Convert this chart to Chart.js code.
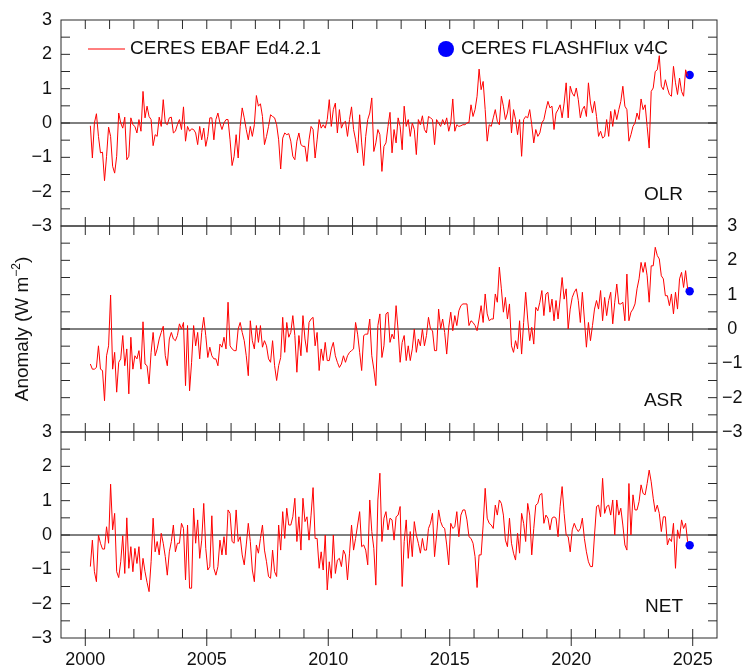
<!DOCTYPE html>
<html>
<head>
<meta charset="utf-8">
<title>CERES TOA flux anomalies</title>
<script src="https://cdn.jsdelivr.net/npm/chart.js@4.4.1/dist/chart.umd.min.js"></script>
<style>
  html, body { margin: 0; padding: 0; background: #ffffff; overflow: hidden; }
  canvas { display: block; }
</style>
</head>
<body>
<canvas id="chart" width="742" height="669"></canvas>
<script>
// Monthly global-mean TOA flux anomalies (W m-2), CERES EBAF Ed4.2.1, starting March 2000
const firstYear = 2000;
const firstMonth = 3;

const olrAnomaly = [
  -0.08,-1.02,0.0,0.27,-0.39,-0.87,-0.85,-1.68,-0.97,-0.12,
  -0.39,-1.26,-1.46,-0.97,0.29,0.0,-0.15,0.17,-1.07,-0.97,
  0.15,-0.05,-0.10,-0.29,0.10,-0.24,0.92,0.15,0.49,0.19,
  0.10,-0.66,-0.34,-0.39,0.17,-0.10,0.68,0.0,-0.05,0.15,
  0.17,-0.29,-0.24,-0.05,0.10,-0.19,0.47,-0.53,-0.10,-0.24,
  -0.17,-0.19,-0.29,-0.63,-0.10,-0.49,-0.15,-0.68,-0.39,0.15,
  0.15,-0.49,0.10,0.29,0.0,-0.19,0.0,0.10,0.10,
  -0.49,-1.24,-0.97,-0.34,-1.02,-0.10,0.44,0.15,-0.19,-0.49,
  -0.10,-0.39,-0.05,0.80,0.49,0.56,0.19,-0.63,-0.39,
  -0.10,0.24,0.19,0.15,-0.05,-0.49,-1.34,-0.44,-0.29,-0.34,-0.31,
  -0.53,-0.97,-1.07,-0.53,-0.29,-0.63,-0.68,-0.68,-1.12,-0.49,
  -0.10,-0.19,-1.02,-0.49,0.10,-0.15,-0.05,-0.15,0.10,0.68,
  -0.10,0.39,0.58,-0.29,0.39,-0.15,0.0,0.05,-0.39,0.10,
  0.47,-0.19,-0.49,-0.87,0.24,-0.58,-1.24,-0.39,0.10,0.29,
  0.73,-0.83,-0.58,-0.19,-0.34,-1.41,-0.68,-0.58,-0.10,0.31,
  -0.87,-0.19,-0.58,0.15,-0.10,-0.78,0.49,-0.10,0.10,-0.39,
  0.0,-0.19,-0.92,0.10,-0.05,0.21,-0.19,-0.29,0.19,0.15,
  0.10,-0.63,0.10,0.0,-0.10,0.10,-0.05,0.15,-0.24,0.0,
  0.70,-0.24,-0.05,-0.10,-0.08,-0.05,-0.05,0.0,0.02,0.53,
  0.19,0.39,0.78,1.57,0.97,1.21,0.39,-0.53,-0.05,-0.10,
  0.15,0.39,0.05,-0.05,0.78,0.49,0.10,0.29,0.68,
  -0.29,0.39,0.10,-0.34,0.10,-0.97,0.10,0.19,0.15,
  0.39,-0.05,-0.58,-0.19,-0.39,-0.29,0.0,0.10,0.39,0.63,
  0.44,0.49,-0.19,0.29,0.39,0.53,0.15,0.58,1.17,0.15,
  1.07,0.87,0.78,1.02,0.68,0.15,0.39,0.49,0.19,1.17,
  0.58,0.29,0.63,0.19,-0.39,-0.24,-0.44,-0.39,0.10,-0.39,
  0.34,-0.10,0.39,0.10,0.39,0.63,1.07,0.49,0.39,-0.53,
  -0.34,-0.10,0.0,0.29,0.10,0.70,0.39,0.53,-0.10,-0.73,
  0.92,1.02,1.50,1.55,1.96,1.07,0.97,1.26,1.02,0.83,
  0.78,1.65,1.17,0.83,1.31,0.92,0.78,1.55,1.36
];

const asrAnomaly = [
  -1.02,-1.17,-1.17,-1.12,-0.49,-1.17,-1.21,-2.09,-0.78,-0.49,
  0.99,-1.17,-0.68,-1.84,-0.97,-0.87,-0.19,-1.07,-0.58,-1.89,
  -0.24,-1.17,-0.78,-0.87,-0.63,-1.17,0.21,-1.02,-1.07,-1.60,
  -0.68,-0.10,-0.78,-0.58,-0.29,-0.10,0.08,-0.78,-1.07,-0.29,
  -0.10,-0.29,-0.34,-0.19,0.15,0.0,0.19,-1.65,0.10,
  -1.80,-0.97,0.10,-0.49,-0.10,-0.87,-0.10,0.34,-0.19,-0.83,
  -0.53,-0.78,-0.87,-0.87,-1.07,-0.44,-0.53,-0.24,-0.58,
  0.78,-0.49,-0.58,-0.63,-0.63,0.0,0.19,-0.10,-0.34,-0.78,
  -1.36,0.24,-0.34,-0.58,0.10,-0.39,0.10,-0.53,-0.34,-0.49,
  -0.87,-0.97,-0.34,-1.07,-1.50,-1.07,-0.83,0.34,-0.68,0.19,-0.24,
  -0.10,0.39,-0.19,-1.26,-0.19,-0.78,0.39,-0.29,-0.68,
  0.19,0.29,0.34,-0.49,-0.10,-1.21,-0.58,-0.92,-0.39,-0.92,
  -0.92,-0.58,-0.39,-0.78,-0.97,-1.12,-1.02,-0.78,-0.97,-0.78,
  -0.68,-0.63,-0.58,0.19,-0.15,-0.68,-1.21,-0.19,-0.15,-0.15,
  0.29,-0.78,-1.17,-1.65,0.10,0.44,-0.83,-0.49,0.44,0.49,
  -0.39,-0.15,-0.29,0.68,-0.05,-0.97,-0.39,-0.19,-0.92,
  -0.49,-0.92,-0.58,0.0,-0.68,-0.29,-0.49,0.0,-0.49,-0.19,
  0.34,0.0,-0.05,-0.63,-0.63,0.58,0.0,0.29,-0.10,-0.73,
  0.05,0.49,-0.05,0.39,0.10,0.53,0.68,0.73,0.73,0.73,
  0.10,0.24,0.19,0.10,-0.05,0.29,0.68,0.19,1.02,0.44,
  0.24,0.29,0.29,1.02,0.78,1.80,1.17,0.49,0.92,0.29,0.73,
  -0.49,-0.68,-0.34,-0.58,0.24,-0.73,0.19,1.07,0.29,
  -0.34,0.05,-0.44,0.63,0.53,0.78,1.12,0.39,1.02,1.07,
  0.49,0.87,0.24,0.83,0.29,0.87,1.50,0.87,1.17,0.0,
  0.58,0.92,1.07,1.17,0.83,0.19,1.07,0.29,-0.53,0.19,
  -0.34,0.10,0.58,0.83,0.58,1.12,0.24,0.92,0.39,
  0.83,1.07,0.15,0.78,1.31,0.73,0.73,0.78,0.24,1.60,
  0.24,0.49,0.58,0.73,1.17,1.46,1.94,1.65,1.94,1.55,
  0.78,1.84,1.84,2.38,2.14,2.04,1.55,1.46,0.97,0.97,
  0.68,1.02,0.44,1.07,0.58,1.46,1.65,1.21,1.70,1.17
];

const netAnomaly = [
  -0.92,-0.15,-1.07,-1.36,0.0,-0.24,-0.41,-0.41,0.24,-0.24,
  1.48,0.15,0.63,-1.07,-1.24,-0.78,-0.02,-1.12,0.50,-0.97,
  -0.34,-1.07,-0.39,-0.83,-0.34,-1.31,-0.68,-1.07,-1.38,-1.65,
  -0.78,0.49,-0.49,-0.19,-0.58,0.05,-0.24,-0.63,-1.17,-0.49,
  -0.19,0.29,-0.49,-0.24,-0.24,0.34,0.19,-1.31,0.29,
  -1.55,-1.55,0.78,-0.24,0.44,-0.68,-0.15,0.92,-0.39,-1.02,
  -0.92,0.56,-0.97,-1.17,-0.92,-0.15,-0.58,-0.05,-0.58,
  0.73,0.63,-0.19,-0.24,0.73,-0.19,-0.05,-0.58,-0.87,-0.29,
  0.34,-0.19,-1.02,-1.36,-0.29,-0.53,-0.10,0.29,-0.44,-0.78,
  -1.21,-1.26,-0.44,-1.07,-1.21,0.29,-0.44,0.68,-0.10,0.78,0.29,
  0.29,0.53,1.07,-0.19,0.53,-0.44,1.07,0.39,0.53,
  -0.15,0.58,1.38,-0.10,-0.10,-0.97,-0.49,-1.02,0.0,-1.60,
  -0.78,-1.26,0.0,-1.12,-0.73,-0.68,-0.92,-0.44,-0.58,-1.31,
  -0.53,0.29,-0.44,-0.10,0.29,0.68,-0.34,-0.29,-0.44,-0.87,
  1.02,0.10,-0.39,-1.46,1.02,1.80,-0.19,0.49,0.68,0.15,
  0.49,0.44,-0.15,0.53,0.58,0.83,-1.50,-0.19,0.44,-0.68,
  0.10,-0.63,0.39,0.0,-0.24,-0.53,-0.10,-0.44,-0.44,
  0.19,0.34,0.63,-0.63,0.0,0.73,0.39,0.24,0.19,-0.29,
  -0.87,0.34,0.19,0.24,0.68,-0.05,0.58,0.73,0.73,0.44,
  -0.05,-0.10,-0.24,-0.63,-1.53,-0.58,-0.58,0.29,1.36,0.49,
  0.34,0.29,0.19,0.87,0.58,1.02,0.92,0.58,-0.15,-0.34,0.49,
  -0.24,-0.53,-0.73,0.05,-0.53,0.63,0.34,-0.19,0.92,0.58,
  -0.58,0.19,0.87,0.92,1.17,1.21,0.34,0.58,0.49,
  0.15,0.49,0.53,0.49,-0.05,0.83,1.41,0.63,0.0,-0.05,
  -0.49,0.15,0.34,0.19,0.10,0.19,0.49,-0.10,-0.49,-0.78,
  -0.92,-0.92,0.0,0.83,0.87,0.53,1.65,0.63,0.83,0.87,
  0.58,1.02,0.0,1.02,0.58,0.78,0.29,-0.29,-0.44,1.50,
  0.0,1.17,0.73,0.73,0.97,1.46,1.21,1.17,1.50,1.89,
  1.55,1.07,0.68,0.87,0.63,0.10,0.53,0.53,-0.29,-0.10,
  -0.19,0.34,-0.97,0.15,-0.10,0.44,0.19,0.34,-0.20
];

// Latest CERES FLASHFlux v4C month
const flashfluxYear = 2024;
const flashfluxMonth = 11;
const flashfluxOLR = [1.4];
const flashfluxASR = [1.1];
const flashfluxNET = [-0.3];

const panelNames = ['OLR', 'ASR', 'NET'];
const yearLabels = [2000, 2005, 2010, 2015, 2020, 2025];
const anomalyTicks = [-3, -2, -1, 0, 1, 2, 3];
const seriesLabels = ['CERES EBAF Ed4.2.1', 'CERES FLASHFlux v4C'];

const FONT = "'Liberation Sans', Arial, Helvetica, sans-serif";
const LINE_RED = '#ff0000';
const DOT_BLUE = '#0000ff';
const INK = '#111111';

const decimalYear = (y, m) => y + (m - 0.5) / 12;
const toPoints = vals => vals.map((v, i) => ({ x: decimalYear(firstYear, firstMonth + i), y: v }));
const flashPoint = vals => vals.map(v => ({ x: decimalYear(flashfluxYear, flashfluxMonth), y: v }));
const signed = v => (v < 0 ? '\u2212' + Math.abs(v) : String(v));

const leftIds = ['yOLR', 'yASR', 'yNET'];
const rightIds = ['rOLR', 'rASR', 'rNET'];

function panelAxis(position, order, showLabels) {
  const left = position === 'left';
  return {
    type: 'linear',
    position: position,
    stack: left ? 'leftPanels' : 'rightPanels',
    stackWeight: 1,
    weight: left ? 3 - order : order + 1,
    min: -3,
    max: 3,
    grid: { display: false, drawTicks: false },
    border: { display: false },
    afterBuildTicks: s => { s.ticks = anomalyTicks.map(v => ({ value: v })); },
    afterFit: s => { s.width = left ? 61 : 25; },
    ticks: {
      display: showLabels,
      autoSkip: false,
      font: { family: FONT, size: 18 },
      color: INK,
      padding: left ? 9 : 5,
      crossAlign: left ? 'near' : 'center',
      callback: signed
    }
  };
}

const scales = {
  x: {
    type: 'linear',
    position: 'bottom',
    min: 1999,
    max: 2026,
    grid: { display: false, drawTicks: false },
    border: { display: false },
    afterBuildTicks: s => { s.ticks = yearLabels.map(v => ({ value: v })); },
    afterFit: s => { s.height = 31; },
    ticks: {
      autoSkip: false,
      maxRotation: 0,
      font: { family: FONT, size: 18 },
      color: INK,
      padding: 11,
      callback: v => String(v)
    }
  }
};
leftIds.forEach((id, k) => { scales[id] = panelAxis('left', k, k !== 1); });
rightIds.forEach((id, k) => { scales[id] = panelAxis('right', k, k === 1); });

function ebafSet(vals, axisId) {
  return {
    label: seriesLabels[0],
    data: toPoints(vals),
    yAxisID: axisId,
    borderColor: LINE_RED,
    borderWidth: 1,
    borderJoinStyle: 'round',
    pointRadius: 0,
    tension: 0,
    fill: false
  };
}
function flashSet(vals, axisId) {
  return {
    label: seriesLabels[1],
    data: flashPoint(vals),
    yAxisID: axisId,
    showLine: false,
    pointRadius: 4.2,
    pointBackgroundColor: DOT_BLUE,
    pointBorderColor: DOT_BLUE,
    pointBorderWidth: 0
  };
}

// Frames, inward tick marks, zero lines, legend, panel names and the shared y title
const panelDecor = {
  id: 'panelDecor',
  beforeDatasetsDraw(chart) {
    const { ctx, chartArea: ca, scales: sc } = chart;
    const xs = sc.x;
    const seg = (x1, y1, x2, y2) => { ctx.beginPath(); ctx.moveTo(x1, y1); ctx.lineTo(x2, y2); ctx.stroke(); };
    ctx.save();
    ctx.lineWidth = 1;
    leftIds.forEach(id => {
      const ys = sc[id];
      const top = ys.top, bottom = ys.bottom;
      ctx.strokeStyle = '#000000';
      const y0 = ys.getPixelForValue(0);
      seg(ca.left, y0, ca.right, y0);
      ctx.strokeStyle = '#2a2a2a';
      ctx.strokeRect(ca.left, top, ca.right - ca.left, bottom - top);
      for (let yr = 2000; yr <= 2025; yr++) {
        const px = xs.getPixelForValue(yr);
        seg(px, top, px, top + 9);
        seg(px, bottom, px, bottom - 9);
      }
      for (let v = -2.5; v <= 2.5; v += 0.5) {
        const py = ys.getPixelForValue(v);
        seg(ca.left, py, ca.left + 9, py);
        seg(ca.right, py, ca.right - 9, py);
      }
    });
    yearLabels.forEach(yr => {
      const px = xs.getPixelForValue(yr);
      seg(px, ca.bottom, px, ca.bottom + 8);
    });
    ctx.restore();
  },
  afterDraw(chart) {
    const { ctx, chartArea: ca, scales: sc } = chart;
    ctx.save();
    ctx.textBaseline = 'middle';

    // legend
    const ly = ca.top + 29;
    ctx.strokeStyle = LINE_RED;
    ctx.lineWidth = 1;
    ctx.beginPath(); ctx.moveTo(ca.left + 27, ly); ctx.lineTo(ca.left + 64, ly); ctx.stroke();
    ctx.font = '19px ' + FONT;
    ctx.fillStyle = INK;
    ctx.textAlign = 'left';
    ctx.fillText(chart.data.datasets[0].label, ca.left + 69, ly);
    ctx.fillStyle = DOT_BLUE;
    ctx.beginPath(); ctx.arc(ca.left + 385, ly, 8, 0, Math.PI * 2); ctx.fill();
    ctx.fillStyle = INK;
    ctx.fillText(chart.data.datasets[3].label, ca.left + 400, ly);

    // panel names
    ctx.textAlign = 'right';
    leftIds.forEach((id, k) => {
      ctx.fillText(panelNames[k], ca.right - 34, sc[id].getPixelForValue(-2.1));
    });

    // y title with superscript
    ctx.translate(23, (ca.top + ca.bottom) / 2);
    ctx.rotate(-Math.PI / 2);
    const mainFont = '19px ' + FONT, supFont = '12px ' + FONT;
    const a = 'Anomaly (W m', s = '\u22122', b = ')';
    ctx.font = mainFont; const wa = ctx.measureText(a).width, wb = ctx.measureText(b).width;
    ctx.font = supFont; const ws = ctx.measureText(s).width;
    let x0 = -(wa + ws + wb) / 2;
    ctx.textAlign = 'left';
    ctx.font = mainFont; ctx.fillText(a, x0, 0);
    ctx.font = supFont; ctx.fillText(s, x0 + wa, -6);
    ctx.font = mainFont; ctx.fillText(b, x0 + wa + ws, 0);
    ctx.restore();
  }
};

new Chart(document.getElementById('chart'), {
  type: 'line',
  data: {
    datasets: [
      ebafSet(olrAnomaly, 'yOLR'),
      ebafSet(asrAnomaly, 'yASR'),
      ebafSet(netAnomaly, 'yNET'),
      flashSet(flashfluxOLR, 'yOLR'),
      flashSet(flashfluxASR, 'yASR'),
      flashSet(flashfluxNET, 'yNET')
    ]
  },
  options: {
    responsive: false,
    animation: false,
    parsing: true,
    layout: { padding: { top: 20, left: 0, right: 0, bottom: 0 } },
    plugins: { legend: { display: false }, tooltip: { enabled: false }, title: { display: false } },
    scales: scales
  },
  plugins: [panelDecor]
});
</script>
</body>
</html>
